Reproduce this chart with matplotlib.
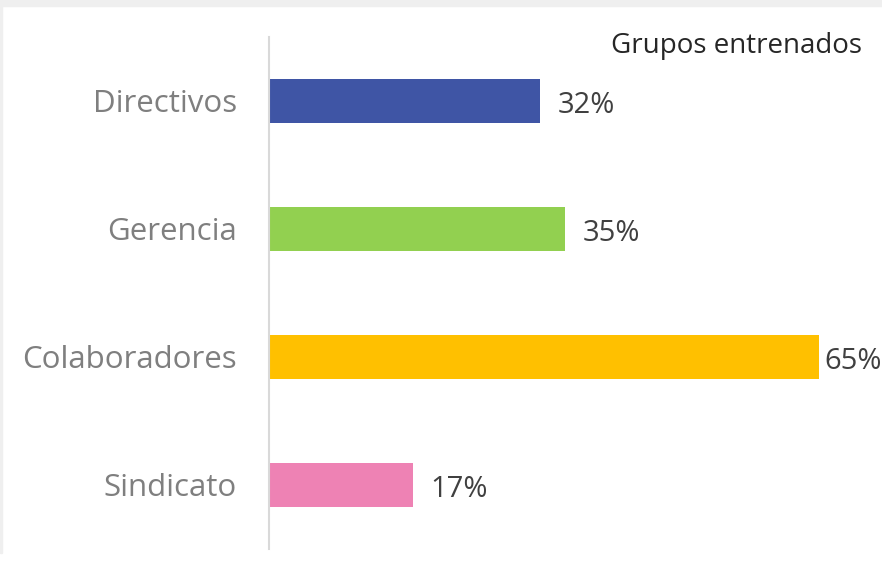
import matplotlib.pyplot as plt
from matplotlib.patches import Rectangle

plt.rcParams['font.family'] = ['Open Sans', 'DejaVu Sans']

categories = ["Directivos", "Gerencia", "Colaboradores", "Sindicato"]
values = [32, 35, 65, 17]
labels = ["32%", "35%", "65%", "17%"]
colors = ["#3F55A5", "#92D050", "#FFC000", "#EE82B4"]

W, H = 882, 577
fig = plt.figure(figsize=(W / 100, H / 100), dpi=100)

# light gray frame pieces at the top and left edge
fig.patches.append(Rectangle((0, 1 - 6 / H), 1, 6 / H, transform=fig.transFigure,
                             color="#efefef", zorder=0))
fig.patches.append(Rectangle((0, 1 - 553 / H), 2 / W, 547 / H, transform=fig.transFigure,
                             color="#efefef", zorder=0))

ax = fig.add_axes([269 / W, 1 - 549 / H, 1 - 269 / W, (549 - 37) / H])
ypos = list(range(len(categories)))
ax.barh(ypos, values, height=0.35, color=colors)

xmax = 72.5
ax.set_xlim(0, xmax)
ax.set_ylim(3.5, -0.5)
ax.set_yticks(ypos)
ax.set_yticklabels(categories, fontsize=22.5, color="#7f7f7f")
ax.tick_params(axis="y", length=0, pad=23)
ax.set_xticks([])

for s in ["top", "right", "bottom"]:
    ax.spines[s].set_visible(False)
ax.spines["left"].set_color("#d9d9d9")
ax.spines["left"].set_linewidth(1.5)

for y, v, t in zip(ypos, values, labels):
    if v > xmax * 0.85:
        # long bar: keep the label inside the right edge
        ax.annotate(t, (1.0, y), xycoords=("axes fraction", "data"),
                    xytext=(0, -3), textcoords="offset points",
                    ha="right", va="center", fontsize=21, color="#404040")
    else:
        ax.annotate(t, (v, y), xytext=(13, -3), textcoords="offset points",
                    ha="left", va="center", fontsize=21, color="#404040")

fig.text(862 / W, 1 - 46 / H, "Grupos entrenados", ha="right", va="center",
         fontsize=20, color="#262626")

fig.savefig("out.png", dpi=100)
